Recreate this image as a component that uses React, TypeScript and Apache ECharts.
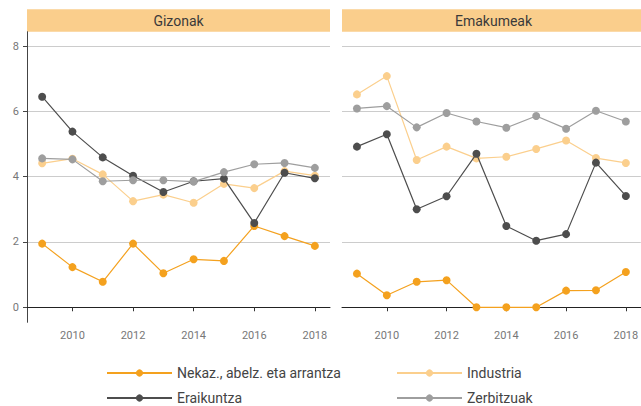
import React, { useEffect, useRef } from "react";
import * as echarts from "echarts";

const years = ["2009", "2010", "2011", "2012", "2013", "2014", "2015", "2016", "2017", "2018"];
const yTicks = [0, 2, 4, 6, 8];
const panels = ["Gizonak", "Emakumeak"];
const seriesNames = ["Nekaz., abelz. eta arrantza", "Industria", "Eraikuntza", "Zerbitzuak"];

// Gizonak
const gizNekaz = [1.95, 1.23, 0.78, 1.95, 1.04, 1.47, 1.42, 2.49, 2.18, 1.88];
const gizIndustria = [4.41, 4.55, 4.07, 3.25, 3.45, 3.2, 3.78, 3.65, 4.17, 4.03];
const gizEraikuntza = [6.45, 5.38, 4.59, 4.03, 3.53, 3.86, 3.94, 2.58, 4.12, 3.95];
const gizZerbitzuak = [4.56, 4.53, 3.86, 3.89, 3.89, 3.85, 4.14, 4.38, 4.42, 4.27];

// Emakumeak
const emaNekaz = [1.03, 0.37, 0.78, 0.83, 0, 0, 0, 0.51, 0.52, 1.08];
const emaIndustria = [6.52, 7.08, 4.51, 4.92, 4.56, 4.61, 4.85, 5.11, 4.57, 4.42];
const emaEraikuntza = [4.92, 5.3, 3.0, 3.4, 4.7, 2.49, 2.04, 2.24, 4.43, 3.41];
const emaZerbitzuak = [6.09, 6.16, 5.51, 5.95, 5.69, 5.5, 5.86, 5.47, 6.02, 5.69];

const colors = ["#F4A11E", "#FBCF8D", "#4D4D4D", "#9E9E9E"];
const FONT = "Roboto";

export default function App() {
  const ref = useRef<HTMLDivElement>(null);
  useEffect(() => {
    if (!ref.current) return;
    const chart = echarts.init(ref.current, null, { renderer: "svg" });
    const data = [
      [gizNekaz, gizIndustria, gizEraikuntza, gizZerbitzuak],
      [emaNekaz, emaIndustria, emaEraikuntza, emaZerbitzuak],
    ];
    const gridLefts = [27, 342];
    const gridW = 303;
    const gridTop = 31.7;
    const gridH = 290.6;
    const series: any[] = [];
    data.forEach((panel, p) => {
      panel.forEach((vals, i) => {
        series.push({
          type: "line",
          name: seriesNames[i],
          xAxisIndex: p,
          yAxisIndex: p,
          data: vals,
          symbol: "circle",
          symbolSize: 8,
          showSymbol: true,
          lineStyle: { color: colors[i], width: 1.2 },
          itemStyle: { color: colors[i] },
          z: 2 + i,
        });
      });
    });
    const legendPos = [
      { left: 106, top: 366 },
      { left: 396, top: 366 },
      { left: 106, top: 391 },
      { left: 396, top: 391 },
    ];
    const option: any = {
      animation: false,
      textStyle: { fontFamily: FONT },
      grid: gridLefts.map((l) => ({ left: l, top: gridTop, width: gridW, height: gridH })),
      xAxis: gridLefts.map((_, p) => ({
        type: "category",
        gridIndex: p,
        data: years,
        boundaryGap: true,
        axisLine: { show: true, lineStyle: { color: "#222", width: 1 } },
        axisTick: {
          show: true,
          alignWithLabel: true,
          length: 4,
          interval: (idx: number) => idx % 2 === 1,
          lineStyle: { color: "#333" },
        },
        axisLabel: {
          interval: (idx: number) => idx % 2 === 1,
          color: "#777",
          fontSize: 11,
          fontFamily: FONT,
          margin: 8,
        },
        splitLine: { show: false },
      })),
      yAxis: gridLefts.map((_, p) => ({
        type: "value",
        gridIndex: p,
        min: -0.46,
        max: 8.44,
        axisLine: { show: p === 0, lineStyle: { color: "#444", width: 1 } },
        axisTick: {
          show: p === 0,
          length: 4,
          customValues: yTicks,
          lineStyle: { color: "#444" },
        },
        axisLabel: {
          show: p === 0,
          customValues: yTicks,
          color: "#777",
          fontSize: 11,
          fontFamily: FONT,
          margin: 8,
        },
        splitLine: { show: true, lineStyle: { color: "#CCCCCC", width: 1 } },
      })),
      legend: seriesNames.map((name, i) => ({
        left: legendPos[i].left,
        top: legendPos[i].top,
        orient: "horizontal",
        itemWidth: 65,
        itemHeight: 9,
        padding: 0,
        data: [name],
        textStyle: { fontSize: 14, color: "#444", fontFamily: FONT },
      })),
      graphic: gridLefts.flatMap((l, p) => [
        {
          type: "rect",
          shape: { x: l, y: 9.3, width: gridW, height: 22.4 },
          style: { fill: "#FACE8C" },
          silent: true,
        },
        {
          type: "text",
          x: l + gridW / 2,
          y: 20.5,
          style: {
            text: panels[p],
            fill: "#3a3a3a",
            fontSize: 14,
            fontFamily: FONT,
            align: "center",
            verticalAlign: "middle",
          },
          silent: true,
        },
      ]),
      series,
    };
    chart.setOption(option);
    return () => chart.dispose();
  }, []);
  return (
    <div
      ref={ref}
      style={{ position: "fixed", left: 0, top: 0, width: 641, height: 406, background: "#fff" }}
    />
  );
}
